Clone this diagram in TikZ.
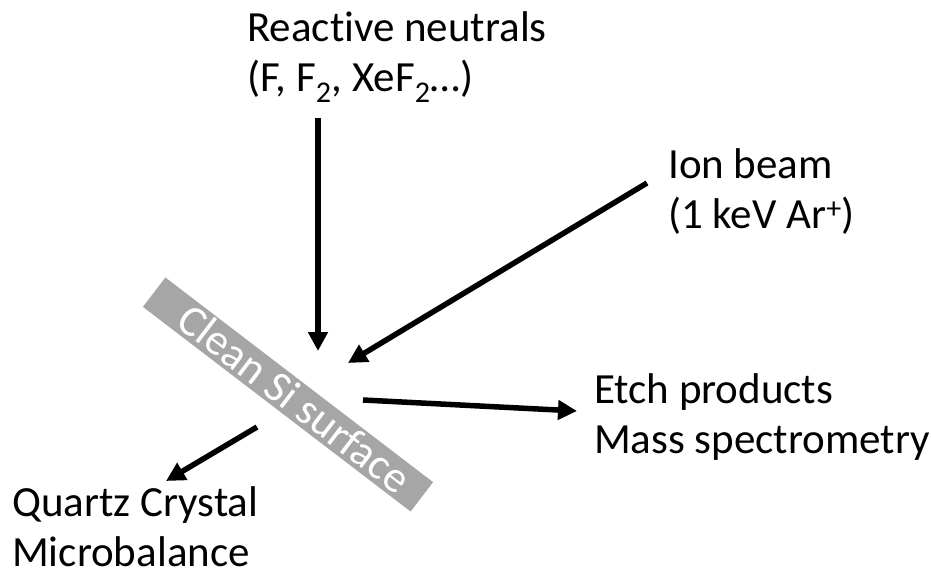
\documentclass[tikz,border=0pt]{standalone}
\usepackage{fontspec}
\setmainfont{Carlito}[Ligatures={NoCommon}]
\usetikzlibrary{arrows.meta,positioning,calc}

\begin{document}
\begin{tikzpicture}[
  x=1pt, y=-1pt,
  every node/.style={align=left, inner sep=0pt},
  % Text labels
  lbl/.style={font=\fontsize{43}{50}\selectfont, anchor=base west},
  % Surface bar
  surf/.style={fill=black!35, draw=none, minimum width=337pt, minimum height=37pt,
    rotate=-37.4},
  surftxt/.style={rotate=-37.4, text=white, font=\fontsize{44}{51}\selectfont},
  % Arrows
  flux/.style={-{Triangle[length=19pt,width=19pt]}, line width=5.5pt, draw=black},
]
\useasboundingbox (0,0) rectangle (931,575);

% -------------------------------------------------------
% SURFACE
% -------------------------------------------------------
\node[surf] (si) at (288,394.5) {};
\node[surftxt] (si-lbl) at ($(si.center)+(7,4)$) {Clean Si surface};

% -------------------------------------------------------
% LABELS
% -------------------------------------------------------
\node[lbl] (rn)  at (247,92)  {Reactive neutrals\\(F, F\textsubscript{2}, XeF\textsubscript{2}\ldots)};
\node[lbl] (ion) at (668,228) {Ion beam\\(1 keV Ar\textsuperscript{+})};
\node[lbl] (ep)  at (594,453) {Etch products\\Mass spectrometry};
\node[lbl] (qcm) at (12,566)  {Quartz Crystal\\Microbalance};

% -------------------------------------------------------
% ARROW END POINTS
% -------------------------------------------------------
\coordinate (rn-src)  at (318,118);
\coordinate (rn-hit)  at (318,351);
\coordinate (ion-src) at (647,183);
\coordinate (ion-hit) at (348,363);
\coordinate (ep-src)  at (363,400);
\coordinate (ep-dst)  at (577,411);
\coordinate (qcm-src) at (257,427);
\coordinate (qcm-dst) at (166,481);

\draw[flux] (rn-src) -- (rn-hit);
\draw[flux] (ion-src) -- (ion-hit);
\draw[flux] (ep-src) -- (ep-dst);
\draw[flux] (qcm-src) -- (qcm-dst);

\end{tikzpicture}
\end{document}
